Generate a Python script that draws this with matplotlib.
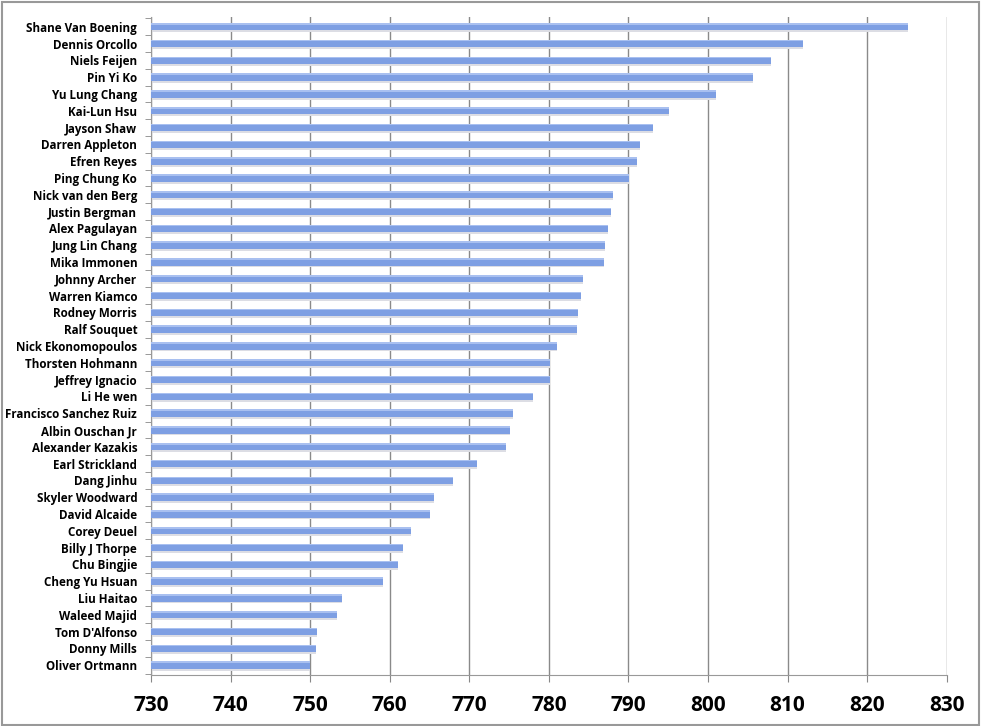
import matplotlib.pyplot as plt
from matplotlib.patches import Rectangle

# players, top to bottom
players = ["Shane Van Boening", "Dennis Orcollo", "Niels Feijen", "Pin Yi Ko",
           "Yu Lung Chang", "Kai-Lun Hsu", "Jayson Shaw", "Darren Appleton",
           "Efren Reyes", "Ping Chung Ko", "Nick van den Berg", "Justin Bergman",
           "Alex Pagulayan", "Jung Lin Chang", "Mika Immonen", "Johnny Archer",
           "Warren Kiamco", "Rodney Morris", "Ralf Souquet", "Nick Ekonomopoulos",
           "Thorsten Hohmann", "Jeffrey Ignacio", "Li He wen",
           "Francisco Sanchez Ruiz", "Albin Ouschan Jr", "Alexander Kazakis",
           "Earl Strickland", "Dang Jinhu", "Skyler Woodward", "David Alcaide",
           "Corey Deuel", "Billy J Thorpe", "Chu Bingjie", "Cheng Yu Hsuan",
           "Liu Haitao", "Waleed Majid", "Tom D'Alfonso", "Donny Mills",
           "Oliver Ortmann"]
ratings = [825.1, 811.9, 807.9, 805.6, 801.0, 795.1, 793.1, 791.5, 791.1,
           790.1, 788.1, 787.8, 787.4, 787.1, 786.9, 784.3, 784.0, 783.7,
           783.5, 781.0, 780.2, 780.1, 778.0, 775.5, 775.1, 774.6, 771.0,
           768.0, 765.6, 765.0, 762.7, 761.7, 761.0, 759.1, 754.0, 753.4,
           750.8, 750.7, 750.0]
xticks = [730, 740, 750, 760, 770, 780, 790, 800, 810, 820, 830]

plt.rcParams['font.family'] = ['Open Sans', 'DejaVu Sans']

fig = plt.figure(figsize=(9.81, 7.26), dpi=100)
ax = fig.add_axes([0.154, 0.070, 0.811, 0.907])

n = len(players)
ypos = list(range(n))[::-1]
base = xticks[0]
widths = [r - base for r in ratings]

# soft shadow under the bar, the bar, a lighter band along its top
ax.barh([y - 0.27 for y in ypos], widths, left=base, height=0.12,
        color='#dcdde4', zorder=2)
ax.barh(ypos, widths, left=base, height=0.44, color='#7e9fe3', zorder=3)
ax.barh([y + 0.175 for y in ypos], widths, left=base, height=0.09,
        color='#a9c0f0', zorder=4)

ax.set_xlim(730, 830)
ax.set_ylim(-0.6, n - 0.4)
ax.set_xticks(xticks)
ax.set_xticklabels([str(t) for t in xticks], fontsize=15, fontweight='bold')
ax.set_yticks(ypos)
ax.set_yticklabels(players, fontsize=8.4, fontweight='bold')
ax.tick_params(axis='y', length=0, pad=10)
ax.tick_params(axis='x', length=5, color='#888888', pad=9)

# small tick marks between categories on the left axis
ax.set_yticks([y + 0.5 for y in range(-1, n)], minor=True)
ax.tick_params(axis='y', which='minor', length=4, color='#888888')

ax.grid(axis='x', color='#8a8a8a', linewidth=1, zorder=0)
ax.set_axisbelow(True)
for s in ['top', 'right']:
    ax.spines[s].set_visible(False)
for s in ['left', 'bottom']:
    ax.spines[s].set_color('#999999')

# frame round the whole picture
fig.patches.append(Rectangle((0.002, 0.002), 0.996, 0.995, transform=fig.transFigure,
                             fill=False, edgecolor='#999999', linewidth=1.5))

fig.savefig('out.png', dpi=100)
